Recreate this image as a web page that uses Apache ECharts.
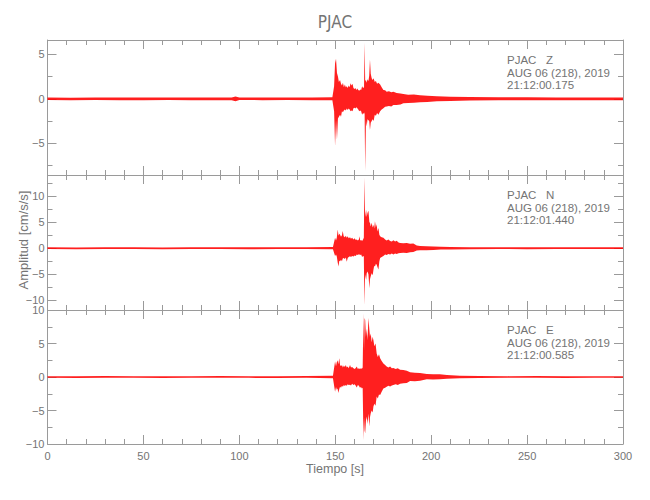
<!DOCTYPE html>
<html><head><meta charset="utf-8">
<script src="https://cdn.jsdelivr.net/npm/echarts@6/dist/echarts.min.js"></script>
<style>html,body{margin:0;padding:0;background:#fff}#c{width:650px;height:500px}</style>
</head><body><div id="c"></div>
<script>
// ---------- text / labels ----------
const chartTitle = 'PJAC';
const xAxisTitle = 'Tiempo [s]';
const yAxisTitle = 'Amplitud [cm/s/s]';
const stationLabels = ['PJAC   Z', 'PJAC   N', 'PJAC   E'];
const dateLabels = ['AUG 06 (218), 2019', 'AUG 06 (218), 2019', 'AUG 06 (218), 2019'];
const startTimes = ['21:12:00.175', '21:12:01.440', '21:12:00.585'];

// ---------- axes ----------
const xRange = [0, 300];
const xTickStep = 50;
const yRanges = [[-8.55, 6.6], [-11.9, 14.1], [-10, 10]];

// ---------- traces: [time s, upper envelope, lower envelope] ----------
const zTrace = [
[0,0.15,-0.14],[12,0.13,-0.15],[25,0.16,-0.13],[38,0.14,-0.15],[50,0.15,-0.16],[63,0.14,-0.13],[75,0.16,-0.15],[88,0.14,-0.15],
[96,0.16,-0.15],[98,0.26,-0.26],[100,0.15,-0.14],[112,0.14,-0.15],[125,0.16,-0.14],[138,0.15,-0.15],[148.5,0.17,-0.17],
[149.4,1.4,-1.4],[149.9,4.0,-5.3],[150.4,4.5,-2.4],[150.9,2.9,-4.6],[151.4,2.5,-2.2],[151.9,1.9,-2.0],[152.5,2.1,-1.8],
[153.0,1.7,-2.0],[153.5,1.5,-1.4],[154.0,1.8,-1.5],[154.5,1.3,-1.3],[155.0,1.6,-1.2],[155.5,1.3,-1.3],[156.0,1.4,-1.1],
[156.5,1.2,-1.25],[157.0,1.5,-1.1],[157.5,1.3,-1.2],[158.0,1.75,-1.4],[158.5,1.5,-1.3],[159.0,1.7,-1.4],[159.5,1.2,-1.05],
[160.0,1.1,-1.0],[160.5,1.2,-1.1],[161.0,1.0,-0.95],[161.5,1.15,-1.05],[162.0,1.0,-1.2],[162.5,0.9,-1.4],[163.0,1.05,-1.3],
[163.5,1.0,-1.4],[164.0,1.4,-1.8],[164.5,1.2,-1.6],[165.0,1.3,-1.7],[165.3,6.3,-1.5],[165.6,2.0,-8.1],[166.0,2.1,-2.4],
[166.4,1.8,-3.1],[166.8,2.2,-2.3],[167.3,2.0,-2.4],[167.7,2.6,-2.5],[168.1,4.4,-3.5],[168.5,2.8,-2.7],[169.0,2.3,-2.5],
[169.5,2.1,-2.3],[170.0,2.3,-2.5],[170.6,1.9,-1.8],[171.2,2.0,-1.9],[171.8,1.7,-1.6],[172.5,1.8,-1.8],[173.4,1.6,-1.4],
[174.2,1.3,-1.2],[175.1,1.0,-1.05],[176.0,0.95,-0.9],[176.8,0.8,-0.85],[178.0,0.85,-0.8],[179.2,0.75,-0.85],[180.3,0.8,-0.7],
[182,0.65,-0.7],[184,0.6,-0.65],[185.5,0.55,-0.5],[188,0.45,-0.48],[191,0.48,-0.45],[194.2,0.4,-0.38],[198,0.34,-0.36],
[203,0.3,-0.28],[210,0.24,-0.24],[220,0.2,-0.2],[235,0.17,-0.17],[250,0.17,-0.15],[265,0.15,-0.16],[280,0.16,-0.15],
[290,0.15,-0.16],[300,0.15,-0.15]
];
const nTrace = [
[0,0.17,-0.17],[15,0.16,-0.18],[30,0.18,-0.16],[45,0.17,-0.17],[60,0.16,-0.18],[75,0.18,-0.17],[90,0.17,-0.16],[105,0.17,-0.18],
[120,0.18,-0.17],[135,0.17,-0.17],[148.8,0.22,-0.22],
[149.9,2.0,-1.5],[150.4,1.5,-1.2],[150.8,2.0,-1.6],[151.3,3.6,-2.8],[151.7,2.4,-3.5],[152.1,2.8,-2.4],[152.5,2.6,-2.5],
[153.0,2.2,-2.2],[153.5,2.5,-2.5],[153.9,3.3,-2.0],[154.4,2.3,-1.9],[155.0,2.1,-2.1],[155.5,2.4,-1.8],[156.0,2.0,-2.6],
[156.5,2.3,-1.9],[157.0,1.9,-1.7],[157.7,2.1,-1.55],[158.2,1.8,-1.7],[158.8,2.0,-1.5],[159.5,1.7,-1.6],[160.1,1.9,-1.4],
[160.7,1.6,-1.5],[161.2,1.7,-1.2],[161.8,1.5,-1.3],[162.3,1.7,-1.15],[162.6,2.3,-1.2],[163.0,1.5,-1.3],[163.5,1.6,-1.2],
[164.0,1.4,-1.7],[164.5,1.7,-1.5],[164.9,2.0,-1.6],[165.2,13.6,-10.9],[165.5,7.5,-6.1],[165.8,6.0,-5.0],[166.1,7.4,-6.1],
[166.4,6.0,-4.8],[166.8,6.8,-4.5],[167.3,7.2,-5.0],[167.8,5.0,-7.7],[168.1,4.9,-6.0],[168.5,4.2,-5.4],[169.0,4.9,-4.8],
[169.5,4.0,-5.2],[169.9,4.5,-4.2],[170.3,3.8,-3.4],[170.7,5.2,-3.5],[171.2,4.0,-3.0],[171.6,4.6,-3.2],[172.0,3.2,-3.6],
[172.5,3.9,-4.1],[173.0,2.6,-2.5],[173.4,2.3,-1.9],[174.2,2.1,-1.7],[175.1,2.0,-1.5],[176.0,1.7,-1.2],[176.8,1.5,-1.3],
[177.7,1.7,-1.1],[178.6,1.4,-1.2],[179.5,1.3,-1.0],[180.3,1.55,-1.2],[181.2,1.3,-1.0],[182.0,1.45,-1.1],[183.0,1.1,-0.95],
[183.8,1.0,-0.9],[185.5,0.95,-0.85],[187.3,1.0,-0.9],[189.0,0.85,-0.77],[190.7,0.9,-0.75],[192.5,0.5,-0.45],[194.2,0.42,-0.4],
[197.5,0.4,-0.38],[201.2,0.35,-0.33],[205,0.28,-0.26],[210,0.23,-0.23],[220,0.2,-0.2],[235,0.18,-0.17],[250,0.17,-0.18],
[265,0.17,-0.17],[280,0.18,-0.17],[300,0.17,-0.17]
];
const eTrace = [
[0,0.13,-0.13],[15,0.12,-0.14],[30,0.14,-0.12],[45,0.13,-0.13],[60,0.13,-0.14],[75,0.12,-0.13],[90,0.14,-0.12],[105,0.13,-0.13],
[120,0.13,-0.14],[135,0.14,-0.13],[148.8,0.18,-0.18],
[149.9,2.3,-2.2],[150.4,1.6,-1.5],[150.8,2.2,-1.9],[151.2,2.5,-1.7],[151.6,1.9,-2.4],[152.1,2.8,-1.8],[152.5,1.8,-1.45],
[153.0,1.6,-1.6],[153.5,1.8,-1.3],[154.0,1.4,-1.45],[154.5,1.7,-1.2],[155.0,1.5,-1.35],[155.5,1.8,-1.2],[156.0,1.4,-1.3],
[156.5,1.55,-1.1],[157.0,1.3,-1.2],[157.7,1.8,-1.15],[158.2,1.4,-1.25],[158.8,1.5,-1.0],[159.5,1.3,-1.2],[160.1,1.2,-1.1],
[160.7,1.35,-1.3],[161.2,1.55,-1.55],[161.8,1.2,-1.2],[162.3,1.3,-1.3],[162.9,1.2,-1.6],[163.4,1.3,-1.5],[163.9,1.25,-1.7],
[164.3,1.4,-1.6],[164.7,9.5,-9.4],[165.0,4.0,-6.0],[165.3,8.8,-8.0],[165.6,8.5,-8.4],[166.0,6.0,-6.5],[166.4,7.2,-5.9],
[166.8,5.5,-7.0],[167.3,8.8,-5.5],[167.8,7.0,-7.4],[168.1,6.0,-6.0],[168.5,6.5,-5.4],[169.0,5.2,-5.0],[169.5,6.0,-5.3],
[169.9,5.5,-4.4],[170.4,4.6,-4.0],[171.0,5.0,-4.3],[171.6,3.5,-2.9],[172.2,3.0,-3.2],[172.8,3.4,-2.6],[173.4,2.8,-2.7],
[174.2,2.4,-2.2],[175.1,2.0,-1.7],[176.0,1.8,-1.6],[176.8,1.55,-1.45],[177.7,1.4,-1.3],[178.6,1.55,-1.4],[179.5,1.3,-1.25],
[180.3,1.35,-1.2],[181.5,1.2,-1.1],[182.6,1.3,-1.2],[183.8,1.1,-1.0],[185.5,1.05,-0.95],[187.3,0.95,-0.9],[189.0,0.7,-0.6],
[191.5,0.65,-0.62],[194.2,0.6,-0.55],[197.7,0.45,-0.35],[201,0.4,-0.38],[204.5,0.42,-0.33],[208.2,0.3,-0.25],[215,0.2,-0.18],
[225,0.16,-0.15],[240,0.13,-0.13],[255,0.14,-0.13],[270,0.13,-0.14],[285,0.13,-0.13],[300,0.13,-0.13]
];
const traces = [zTrace, nTrace, eTrace];

// ---------- layout ----------
const PLOT_LEFT = 47.5, PLOT_RIGHT = 27;
const panelTops = [40, 175, 310];
const panelHeights = [135, 135, 134];
const AXIS_COLOR = '#9a9a9a';
const TEXT_COLOR = '#747474';
const FONT = "'Liberation Sans', Arial, sans-serif";
const NARROW = "'Liberation Sans Narrow', 'DejaVu Sans Condensed', 'Liberation Sans', sans-serif";

const chart = echarts.init(document.getElementById('c'), null, {renderer: 'svg'});

const grids = [], xAxes = [], yAxes = [], series = [], graphics = [];
const minusFmt = v => String(v).replace('-', '\u2212');

for (let i = 0; i < 3; i++) {
  grids.push({left: PLOT_LEFT, right: PLOT_RIGHT, top: panelTops[i], height: panelHeights[i], containLabel: false});
  const tickCommon = {
    axisLine: {show: true, onZero: false, lineStyle: {color: AXIS_COLOR, width: 1}},
    axisTick: {show: true, inside: true, length: 9, lineStyle: {color: AXIS_COLOR}},
    minorTick: {show: true, length: 5, lineStyle: {color: AXIS_COLOR}},
    splitLine: {show: false}, minorSplitLine: {show: false}
  };
  ['bottom', 'top'].forEach((pos, k) => {
    xAxes.push(Object.assign({}, tickCommon, {
      type: 'value', gridIndex: i, position: pos, min: xRange[0], max: xRange[1], interval: xTickStep,
      minorTick: Object.assign({}, tickCommon.minorTick, {splitNumber: 5}),
      axisLabel: {show: i === 2 && k === 0, color: TEXT_COLOR, fontFamily: FONT, fontSize: 11, margin: 6}
    }));
  });
  const yr = yRanges[i];
  ['left', 'right'].forEach((pos, k) => {
    const ax = Object.assign({}, tickCommon, {
      type: 'value', gridIndex: i, position: pos, min: yr[0], max: yr[1],
      minorTick: Object.assign({}, tickCommon.minorTick, {splitNumber: 2}),
      axisLabel: {show: k === 0, color: TEXT_COLOR, fontFamily: FONT, fontSize: 11, margin: 3,
                  showMinLabel: i === 2, showMaxLabel: i === 2, formatter: minusFmt}
    });
    if (i === 2) ax.interval = 5; else ax.splitNumber = (i === 0 ? 3 : 5);
    yAxes.push(ax);
  });

  const tr = traces[i];
  series.push({
    type: 'custom', xAxisIndex: i * 2, yAxisIndex: i * 2, clip: true, silent: true,
    data: [[tr[0][0], 0]],
    renderItem: function (params, api) {
      const pts = [];
      for (const r of tr) pts.push(api.coord([r[0], r[1]]));
      for (let k = tr.length - 1; k >= 0; k--) pts.push(api.coord([tr[k][0], tr[k][2]]));
      return {type: 'polygon', shape: {points: pts},
              style: {fill: 'rgba(255,0,0,0.88)', stroke: null, lineWidth: 0}};
    }
  });

  const lines = [stationLabels[i], dateLabels[i], startTimes[i]];
  lines.forEach((txt, j) => {
    graphics.push({type: 'text', left: 507, top: panelTops[i] + 14 + j * 12.5,
      style: {text: txt, fill: TEXT_COLOR, font: '11.5px ' + FONT}});
  });
}

graphics.push({type: 'text', x: 335, y: 22, style: {text: chartTitle, fill: TEXT_COLOR, font: '17px ' + NARROW, textAlign: 'center', textVerticalAlign: 'middle'}});
graphics.push({type: 'text', x: 335, y: 469, style: {text: xAxisTitle, fill: TEXT_COLOR, font: '12.5px ' + FONT, textAlign: 'center', textVerticalAlign: 'middle'}});
graphics.push({type: 'text', x: 23, y: 240, rotation: Math.PI / 2, style: {text: yAxisTitle, fill: TEXT_COLOR, font: '13px ' + FONT, textAlign: 'center', textVerticalAlign: 'middle'}});

chart.setOption({
  animation: false,
  backgroundColor: '#ffffff',
  grid: grids, xAxis: xAxes, yAxis: yAxes, series: series, graphic: graphics
});
</script>
</body></html>
